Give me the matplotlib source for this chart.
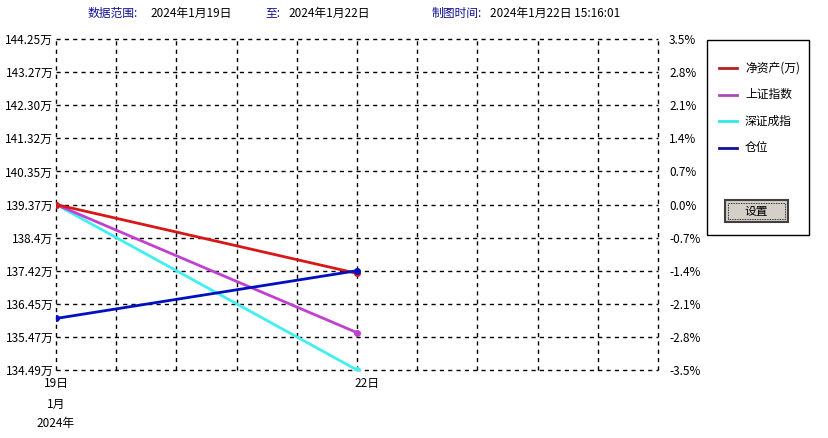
import matplotlib.pyplot as plt
from matplotlib.patches import Rectangle
from matplotlib.lines import Line2D

plt.rcParams['font.family'] = ['Noto Sans CJK SC', 'DejaVu Sans']

# data
x_pos = [0, 5]
net_asset = [139.37, 137.34]      # 万
sh_index = [0.0, -2.71]           # %
sz_index = [0.0, -3.50]           # %
position = [-2.41, -1.40]         # % scale
base = 139.37

left_labels = ['134.49万', '135.47万', '136.45万', '137.42万', '138.4万', '139.37万',
               '140.35万', '141.32万', '142.30万', '143.27万', '144.25万']
right_labels = ['-3.5%', '-2.8%', '-2.1%', '-1.4%', '-0.7%', '0.0%',
                '0.7%', '1.4%', '2.1%', '2.8%', '3.5%']
y_ticks = [-3.5 + 0.7 * i for i in range(11)]

W, H = 829, 438
fig = plt.figure(figsize=(W / 100, H / 100), dpi=100)
ax = fig.add_axes([56 / W, (H - 370) / H, 602 / W, 331 / H])

net_pct = [(v / base - 1) * 100 for v in net_asset]
ax.plot(x_pos, net_pct, color='#d81818', lw=2, marker='o', ms=4, zorder=5)
ax.plot(x_pos, sh_index, color='#c040d0', lw=2, marker='o', ms=4, zorder=4)
ax.plot(x_pos, sz_index, color='#40f0f0', lw=2, marker='o', ms=4, zorder=3)
ax.plot(x_pos, position, color='#0010c0', lw=2, marker='o', ms=4, zorder=6)

ax.set_xlim(0, 10)
ax.set_ylim(-3.5, 3.5)
ax.set_xticks(range(11))
ax.set_xticklabels([])
ax.set_yticks(y_ticks)
ax.set_yticklabels(left_labels, fontsize=8.5)
ax.tick_params(length=0, pad=2)
for s in ax.spines.values():
    s.set_visible(False)
ax.grid(True, color='black', linestyle=(0, (3, 3)), lw=1)
for gl in ax.get_xgridlines() + ax.get_ygridlines():
    gl.set_clip_on(False)

ax2 = ax.twinx()
ax2.set_ylim(-3.5, 3.5)
ax2.set_yticks(y_ticks)
ax2.set_yticklabels(right_labels, fontsize=8.5)
ax2.tick_params(length=0, pad=8)
for s in ax2.spines.values():
    s.set_visible(False)

# x labels
fig.text(56 / W, 1 - 383 / H, '19日', ha='center', va='center', fontsize=8.5)
fig.text(56 / W, 1 - 404 / H, '1月', ha='center', va='center', fontsize=8.5)
fig.text(56 / W, 1 - 423 / H, '2024年', ha='center', va='center', fontsize=8.5)
fig.text(367 / W, 1 - 383 / H, '22日', ha='center', va='center', fontsize=8.5)

# header
navy = '#101090'
fig.text(88 / W, 1 - 13 / H, '数据范围:', color=navy, fontsize=8.5, va='center')
fig.text(150 / W, 1 - 13 / H, '2024年1月19日', fontsize=8.5, va='center')
fig.text(265 / W, 1 - 13 / H, '至:', color=navy, fontsize=8.5, va='center')
fig.text(288 / W, 1 - 13 / H, '2024年1月22日', fontsize=8.5, va='center')
fig.text(432 / W, 1 - 13 / H, '制图时间:', color=navy, fontsize=8.5, va='center')
fig.text(490 / W, 1 - 13 / H, '2024年1月22日 15:16:01', fontsize=8.5, va='center')

# legend box
fig.add_artist(Rectangle((707 / W, 1 - 235 / H), 102 / W, 195 / H,
                         transform=fig.transFigure, fill=False, ec='black', lw=1))
leg_names = ['净资产(万)', '上证指数', '深证成指', '仓位']
leg_colors = ['#b82020', '#a848b8', '#30e8e8', '#101098']
for i, (name, c) in enumerate(zip(leg_names, leg_colors)):
    yy = 1 - (68 + i * 26.5) / H
    fig.add_artist(Line2D([719 / W, 737 / W], [yy, yy], color=c, lw=2,
                          transform=fig.transFigure))
    fig.text(745 / W, yy, name, fontsize=8.5, va='center')

# button
fig.add_artist(Rectangle((725 / W, 1 - 222 / H), 63 / W, 22 / H,
                         transform=fig.transFigure, fc='#d4d0c8', ec='#404040', lw=1.5))
fig.add_artist(Rectangle((728 / W, 1 - 219 / H), 57 / W, 16 / H,
                         transform=fig.transFigure, fill=False, ec='black', lw=0.6,
                         linestyle=(0, (1, 1))))
fig.text(756 / W, 1 - 211 / H, '设置', fontsize=8.5, ha='center', va='center')

fig.savefig('out.png', dpi=100)
